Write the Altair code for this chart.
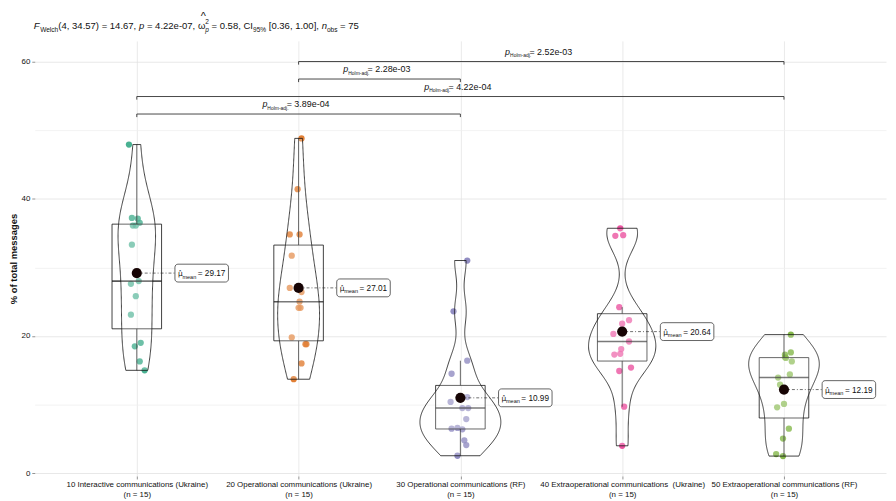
import json
import numpy as np
import pandas as pd
import altair as alt

# ---------------- data ----------------
categories = [
    "10 Interactive communications (Ukraine)",
    "20 Operational communications (Ukraine)",
    "30 Operational communications (RF)",
    "40 Extraoperational communications\u00a0 (Ukraine)",
    "50 Extraoperational communications (RF)",
]
palette = ["#1B9E77", "#D95F02", "#7570B3", "#E7298A", "#66A61E"]

values_g1 = [47.9, 37.2, 36.5, 36.1, 36.1, 33.3, 28.0, 27.6, 25.8, 23.1, 18.5, 19.0, 16.3, 15.0, 37.1]
values_g2 = [48.8, 41.4, 34.8, 34.8, 31.7, 27.0, 26.4, 25.0, 24.1, 24.1, 19.8, 18.8, 18.8, 16.0, 13.7]
values_g3 = [31.0, 23.6, 16.4, 14.5, 10.4, 11.1, 9.5, 9.5, 7.9, 6.5, 6.6, 6.4, 4.8, 4.1, 2.55]
values_g4 = [35.7, 34.6, 34.7, 24.2, 22.3, 20.3, 21.8, 19.2, 18.1, 17.3, 17.4, 15.4, 14.9, 9.7, 4.0]
values_g5 = [20.2, 17.3, 17.6, 16.8, 16.3, 14.4, 13.95, 12.9, 10.1, 9.6, 6.5, 5.05, 2.8, 2.5, 16.9]

# horizontal jitter of each point (px of a 165 px category step)
jitter_g1 = [-8, -5, 3, -4, -1, -5, 2, -6, -1, -6, -2, 4, 3, 8, 1]
jitter_g2 = [3, -1, -9, 1, -7, -9, 3, 1, 0, 2, -7, 8, 7, 3, -5]
jitter_g3 = [7, -7, 7, -9, -10, 7, 2, 8, 6, -9, -3, 2, 4, 6, -3]
jitter_g4 = [-2, -7, 1, -3, 7, -9, 0, 7, -1, -8, -2, 9, -3, 2, 0]
jitter_g5 = [7, 1, 7, 2, 8, 6, -6, -4, 0, -7, 5, -1, -8, -1, 1]

# pairwise comparisons (Holm-adjusted)
pair_from = [2, 2, 1, 1]
pair_to = [5, 3, 5, 3]
pair_y = [60.0, 57.45, 54.9, 52.35]
pair_p = ["2.52e-03", "2.28e-03", "4.22e-04", "3.89e-04"]

groups_values = [values_g1, values_g2, values_g3, values_g4, values_g5]
groups_jitter = [jitter_g1, jitter_g2, jitter_g3, jitter_g4, jitter_g5]

STEP_PX = 165.25
rows = []
for gi, (vals, jit) in enumerate(zip(groups_values, groups_jitter), start=1):
    for v, j in zip(vals, jit):
        rows.append({"gi": gi, "group": categories[gi - 1], "value": v, "jit": j / STEP_PX})
df = pd.DataFrame(rows)

# violin: nrd0 bandwidth per group, "area" scaling shared across groups (width 0.5)
def nrd0(x):
    x = np.asarray(x, dtype=float)
    sd = x.std(ddof=1)
    q75, q25 = np.percentile(x, [75, 25])
    lo = min(sd, (q75 - q25) / 1.34)
    return 0.9 * lo * len(x) ** -0.2

def kde_peak(x, bw):
    x = np.asarray(x, dtype=float)
    grid = np.linspace(x.min(), x.max(), 400)
    d = np.exp(-0.5 * ((grid[:, None] - x[None, :]) / bw) ** 2).sum(1) / (len(x) * bw * np.sqrt(2 * np.pi))
    return d.max()

bws = [nrd0(v) for v in groups_values]
peak = max(kde_peak(v, b) for v, b in zip(groups_values, bws))
HALF = 0.25 / peak

xs = alt.Scale(domain=[0.4, 5.6], nice=False, zero=False)
ys = alt.Scale(domain=[-0.4, 63.0], nice=False, zero=False)
FONT = "Liberation Sans"

labels_js = json.dumps([[c, f"(n = {len(v)})"] for c, v in zip(categories, groups_values)])

xaxis = alt.Axis(
    values=[1, 2, 3, 4, 5], labelExpr=f"{labels_js}[datum.value - 1]", title=None,
    grid=True, gridColor="#e4e4e4", gridWidth=0.8, domain=False,
    tickColor="#777", tickSize=3, tickWidth=0.8, labelPadding=2,
    labelFont=FONT, labelFontSize=8, labelColor="#111", labelLineHeight=9.5,
    labelBaseline="top", labelAngle=0, labelOverlap=False, labelFlush=False,
)
yaxis = alt.Axis(
    values=[0, 10, 20, 30, 40, 50, 60],
    labelExpr="datum.value % 20 == 0 ? datum.label : ''",
    title="% of total messages", grid=True,
    gridColor={"condition": {"test": "datum.value % 20 == 0", "value": "#e2e2e2"}, "value": "#efefef"},
    gridWidth=0.8, domain=False,
    tickColor={"condition": {"test": "datum.value % 20 == 0", "value": "#777"}, "value": "transparent"},
    tickSize=3, tickWidth=0.8, labelPadding=2, labelFont=FONT, labelFontSize=8, labelColor="#111",
    titleFont=FONT, titleFontSize=9.5, titleFontWeight="bold", titleColor="#111", titlePadding=3,
)

def X(field):
    return alt.X(field, scale=xs, axis=xaxis)

def Y(field):
    return alt.Y(field, scale=ys, axis=yaxis)

base = alt.Chart(df)

points = base.transform_calculate(xj="datum.gi + datum.jit").mark_circle(size=40, opacity=0.8).encode(
    x=X("xj:Q"),
    y=Y("value:Q"),
    color=alt.Color("group:N", scale=alt.Scale(domain=categories, range=palette), legend=None),
)

box = base.mark_boxplot(
    extent=1.5, outliers=False, size=50, orient="vertical", ticks=False,
    box={"fill": "white", "fillOpacity": 0.2, "stroke": "#111", "strokeWidth": 0.8},
    median={"color": "#111", "thickness": 1.6},
    rule={"color": "#111", "strokeWidth": 0.8},
).encode(x=X("gi:Q"), y=Y("value:Q"))

violins = []
for i in range(5):
    g = i + 1
    violins.append(
        base.transform_filter(alt.datum.gi == g)
        .transform_density("value", as_=["v", "dens"], bandwidth=float(bws[i]), steps=200)
        .transform_calculate(lo=f"{g} - datum.dens * {HALF}", hi=f"{g} + datum.dens * {HALF}")
        .mark_area(orient="horizontal", fill="white", fillOpacity=0.2, stroke="#111", strokeWidth=0.8)
        .encode(y=Y("v:Q"), x=X("lo:Q"), x2="hi:Q")
    )

means = base.transform_aggregate(m="mean(value)", groupby=["gi"]).transform_calculate(
    lab="'= ' + format(datum.m, '.2f')"
)
mx = X("gi:Q")
my = Y("m:Q")

leader = means.mark_rule(strokeDash=[3, 2, 1, 2], color="#333", strokeWidth=0.7, x2Offset=38.5).encode(
    x=mx, x2="gi:Q", y=my
)
mean_pt = means.mark_circle(size=105, color="#160404", opacity=1).encode(x=mx, y=my)
label_box = means.mark_rect(
    fill="white", stroke="#222", strokeWidth=0.7, cornerRadius=3,
    xOffset=38.5, x2Offset=92.5, yOffset=-9, y2Offset=9,
).encode(x=mx, x2="gi:Q", y=my, y2="m:Q")
lab_mu = means.mark_text(align="left", baseline="alphabetic", dx=41.5, dy=3, fontSize=7.5,
                         font="DejaVu Sans", color="#111").encode(x=mx, y=my, text=alt.value("\u03bc\u0302"))
lab_sub = means.mark_text(align="left", baseline="alphabetic", dx=46, dy=5.5, fontSize=5.6,
                          font=FONT, color="#111").encode(x=mx, y=my, text=alt.value("mean"))
lab_val = means.mark_text(align="left", baseline="alphabetic", dx=61.5, dy=3, fontSize=8.3,
                          font=FONT, color="#111").encode(x=mx, y=my, text="lab:N")

# significance brackets
br = pd.DataFrame({"x1": pair_from, "x2": pair_to, "yb": pair_y, "p": pair_p})
brc = alt.Chart(br).transform_calculate(mid="(datum.x1 + datum.x2) / 2", yt="datum.yb - 0.45")
by = Y("yb:Q")
br_h = brc.mark_rule(color="#333", strokeWidth=0.9).encode(x=X("x1:Q"), x2="x2:Q", y=by)
br_l = brc.mark_rule(color="#333", strokeWidth=0.9).encode(x=X("x1:Q"), y=by, y2="yt:Q")
br_r = brc.mark_rule(color="#333", strokeWidth=0.9).encode(x=X("x2:Q"), y=by, y2="yt:Q")
br_p = brc.mark_text(align="left", baseline="alphabetic", dx=-36.5, dy=-7, fontSize=9, fontStyle="italic",
                     font=FONT, color="#111").encode(x=X("mid:Q"), y=by, text=alt.value("p"))
br_s = brc.mark_text(align="left", baseline="alphabetic", dx=-31.5, dy=-4.5, fontSize=5,
                     font=FONT, color="#111").encode(x=X("mid:Q"), y=by, text=alt.value("Holm-adj."))
br_v = brc.transform_calculate(t="'= ' + datum.p").mark_text(
    align="left", baseline="alphabetic", dx=-12, dy=-7, fontSize=9, font=FONT, color="#111"
).encode(x=X("mid:Q"), y=by, text="t:N")

# statistical header, built from pieces (sub/superscripts)
W = {"0": .556, "1": .556, "2": .556, "3": .556, "4": .556, "5": .556, "6": .556, "7": .556,
     "8": .556, "9": .556, ".": .278, ",": .278, " ": .278, "(": .333, ")": .333, "=": .584,
     "[": .278, "]": .278, "-": .333, "%": .889, "e": .556, "p": .556, "n": .556, "o": .556,
     "b": .556, "s": .5, "F": .611, "W": .944, "l": .222, "c": .5, "h": .556, "C": .722,
     "I": .278, "\u03c9": .72}
def tw(s, size):
    return sum(W.get(ch, .556) for ch in s) * size

MAIN, SUB = 9.6, 6.6
PLOT_LEFT, PLOT_TOP = 35, 39
BASE_Y, SUB_Y, SUP_Y = 27.3, 29.9, 22.0
pieces = []
cx = 34.0
def put(text, size, y, italic=False, adv=True, gap=0.0, align="left"):
    global cx
    pieces.append((text, cx, y, size, italic, align))
    if adv:
        cx += tw(text, size) + gap

sp = tw(" ", MAIN)
put("F", MAIN, BASE_Y, italic=True, gap=0.6)
put("Welch", SUB, SUB_Y)
put("(4, 34.57) = 14.67,", MAIN, BASE_Y, gap=sp)
put("p", MAIN, BASE_Y, italic=True, gap=sp)
put("= 4.22e-07,", MAIN, BASE_Y, gap=sp)
om_x = cx
put("\u03c9", MAIN, BASE_Y, gap=0.4)
put("2", SUB, SUP_Y, adv=False)
put("p", SUB, SUB_Y, italic=True, gap=sp)
hat_x = om_x + (tw("\u03c9", MAIN) + tw("2", SUB)) / 2
pieces.append(("^", hat_x, 17.5, 11, False, "center"))
put("= 0.58, CI", MAIN, BASE_Y)
put("95%", SUB, SUB_Y, gap=sp)
put("[0.36, 1.00],", MAIN, BASE_Y, gap=sp)
put("n", MAIN, BASE_Y, italic=True)
put("obs", SUB, SUB_Y, gap=sp)
put("= 75", MAIN, BASE_Y)

one = alt.Data(values=[{"k": 1}])
title_layers = []
for text, px, py, size, italic, align in pieces:
    title_layers.append(
        alt.Chart(one).mark_text(
            align=align, baseline="alphabetic", fontSize=size, font=FONT, color="#111",
            fontStyle="italic" if italic else "normal",
        ).encode(x=alt.value(px - PLOT_LEFT), y=alt.value(py - PLOT_TOP), text=alt.value(text))
    )

chart = alt.layer(
    points, box, *violins, leader, mean_pt, label_box, lab_mu, lab_sub, lab_val,
    br_h, br_l, br_r, br_p, br_s, br_v, *title_layers,
).properties(
    width=859, height=439,
    padding={"left": 27, "top": 31, "right": 2, "bottom": 23},
    autosize=alt.AutoSizeParams(type="none"),
    background="white",
).configure_view(stroke=None)

chart.save("out.html", embed_options={"renderer": "svg", "actions": False})
